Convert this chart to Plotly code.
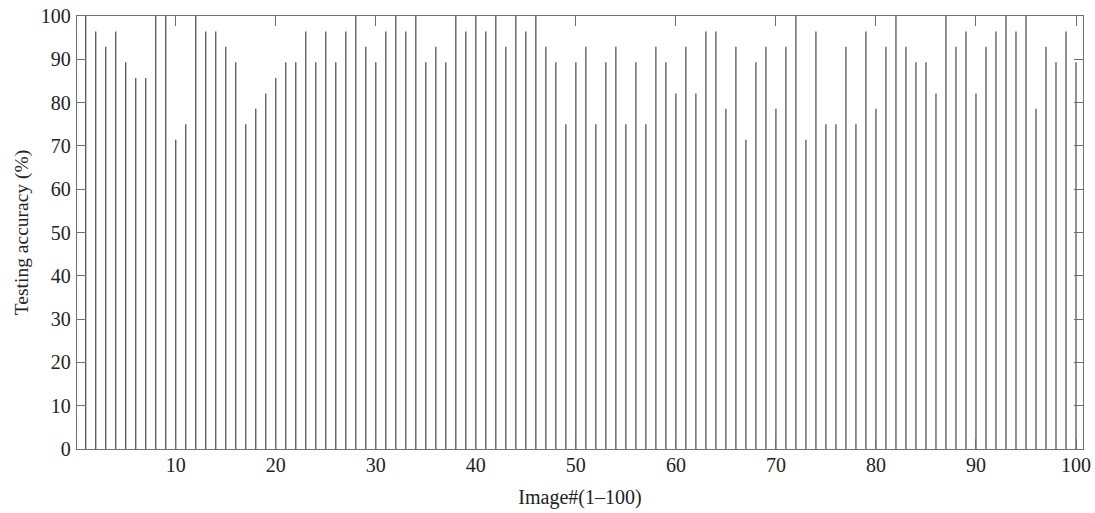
import plotly.graph_objects as go

# Image index 1..100
image_ids = list(range(1, 101))

# Testing accuracy (%) per image (multiples of 1/28)
accuracy = [
    100.0, 96.4, 92.9, 96.4, 89.3, 85.7, 85.7, 100.0, 100.0, 71.4,
    75.0, 100.0, 96.4, 96.4, 92.9, 89.3, 75.0, 78.6, 82.1, 85.7,
    89.3, 89.3, 96.4, 89.3, 96.4, 89.3, 96.4, 100.0, 92.9, 89.3,
    96.4, 100.0, 96.4, 100.0, 89.3, 92.9, 89.3, 100.0, 96.4, 100.0,
    96.4, 100.0, 92.9, 100.0, 96.4, 100.0, 92.9, 89.3, 75.0, 89.3,
    92.9, 75.0, 89.3, 92.9, 75.0, 89.3, 75.0, 92.9, 89.3, 82.1,
    92.9, 82.1, 96.4, 96.4, 78.6, 92.9, 71.4, 89.3, 92.9, 78.6,
    92.9, 100.0, 71.4, 96.4, 75.0, 75.0, 92.9, 75.0, 96.4, 78.6,
    92.9, 100.0, 92.9, 89.3, 89.3, 82.1, 100.0, 92.9, 96.4, 82.1,
    92.9, 96.4, 100.0, 96.4, 100.0, 78.6, 92.9, 89.3, 96.4, 89.3,
]

x_tick_vals = [10, 20, 30, 40, 50, 60, 70, 80, 90, 100]
y_tick_vals = [0, 10, 20, 30, 40, 50, 60, 70, 80, 90, 100]

# Build stem segments (vertical lines from 0 to value)
xs, ys = [], []
for xi, yi in zip(image_ids, accuracy):
    xs += [xi, xi, None]
    ys += [0, yi, None]

fig = go.Figure()
fig.add_trace(go.Scatter(
    x=xs, y=ys, mode="lines",
    line=dict(color="#555555", width=1.3),
    hoverinfo="skip", showlegend=False,
))

font_family = "Liberation Serif, Times New Roman, serif"
axis_color = "#707070"
text_color = "#222222"

fig.update_layout(
    width=1095, height=513,
    margin=dict(l=77, r=12, t=16, b=64, autoexpand=False),
    paper_bgcolor="white", plot_bgcolor="white",
    font=dict(family=font_family, size=19, color=text_color),
    showlegend=False,
)

fig.update_xaxes(
    range=[0.13, 100.7], automargin=False,
    tickmode="array", tickvals=x_tick_vals,
    ticks="inside", ticklen=10, tickwidth=1, tickcolor=axis_color,
    ticklabelstandoff=-2,
    showline=True, linecolor=axis_color, linewidth=1.3, mirror="ticks",
    showgrid=False, zeroline=False,
    tickfont=dict(family=font_family, size=20, color=text_color),
    title=dict(text="Image#(1–100)", standoff=14,
               font=dict(family=font_family, size=20, color=text_color)),
)
fig.update_yaxes(
    range=[0, 100], automargin=False,
    tickmode="array", tickvals=y_tick_vals,
    ticks="inside", ticklen=9, tickwidth=1, tickcolor=axis_color,
    ticklabelstandoff=1,
    showline=True, linecolor=axis_color, linewidth=1.3, mirror="ticks",
    showgrid=False, zeroline=False,
    tickfont=dict(family=font_family, size=20, color=text_color),
    title=dict(text="Testing accuracy (%)", standoff=7,
               font=dict(family=font_family, size=19.5, color=text_color)),
)

fig.write_html(
    "out.html",
    config={"displayModeBar": False},
    post_script="document.body.style.margin='0';document.body.style.padding='0';",
)
